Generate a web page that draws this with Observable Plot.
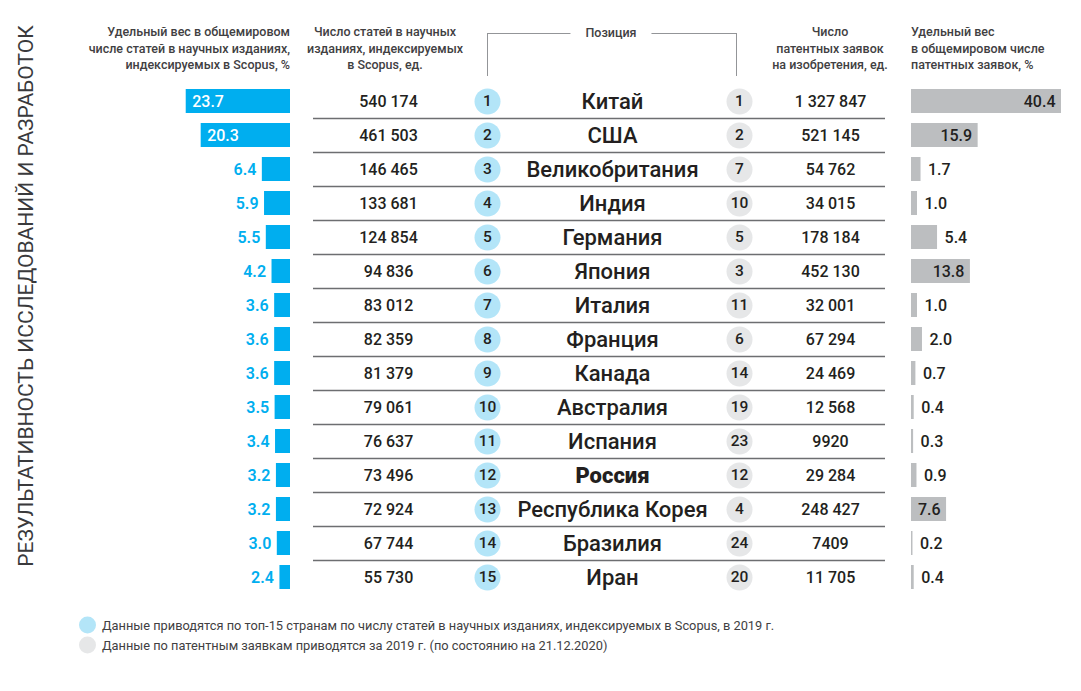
<!DOCTYPE html>
<html>
<head>
<meta charset="utf-8">
<script src="https://cdn.jsdelivr.net/npm/d3@7"></script>
<script src="https://cdn.jsdelivr.net/npm/@observablehq/plot@0.6"></script>
<style>
  body { margin: 0; background: #fff; }
  #chart { position: relative; width: 1081px; height: 691px; overflow: hidden; background: #fff;
           font-family: Roboto, "Noto Sans", sans-serif; color: #231f20; }
  #chart svg { position: absolute; left: 0; top: 0; background: transparent; overflow: visible; }
  .hdr { position: absolute; font-size: 12.5px; font-weight: 500; line-height: 16.5px; color: #414042; white-space: nowrap; }
  .bracket { position: absolute; left: 487px; top: 33px; width: 250px; height: 43px;
             border: 1.5px solid #939598; border-bottom: none; box-sizing: border-box; }
  .pos { position: absolute; left: 611px; top: 33px; transform: translate(-50%, -55%); background: #fff;
         padding: 0 15px; font-size: 12.5px; font-weight: 500; color: #414042; }
  .vtitle { position: absolute; left: 26px; top: 296px; transform: translate(-50%, -50%) rotate(-90deg);
            white-space: nowrap; font-size: 21px; font-weight: 400; color: #3a3a3c; letter-spacing: 0px; }
  .leg { position: absolute; left: 102px; font-size: 12.8px; color: #414042; white-space: nowrap; transform: translateY(-50%); }
  .legdot { position: absolute; left: 79px; width: 17px; height: 17px; border-radius: 50%; transform: translateY(-50%); }
</style>
</head>
<body>
<div id="chart">
  <div class="vtitle">РЕЗУЛЬТАТИВНОСТЬ ИССЛЕДОВАНИЙ И РАЗРАБОТОК</div>
  <div class="hdr" style="right:791px; top:24px; text-align:right;">Удельный вес в общемировом<br>числе статей в научных изданиях,<br>индексируемых в Scopus, %</div>
  <div class="hdr" style="left:285px; width:200px; top:24px; text-align:center;">Число статей в научных<br>изданиях, индексируемых<br>в Scopus, ед.</div>
  <div class="bracket"></div>
  <div class="pos">Позиция</div>
  <div class="hdr" style="left:730px; width:200px; top:24px; text-align:center;">Число<br>патентных заявок<br>на изобретения, ед.</div>
  <div class="hdr" style="left:911px; top:24px; text-align:left;">Удельный вес<br>в общемировом числе<br>патентных заявок, %</div>
  <div class="legdot" style="top:625px; background:#b3e5f8;"></div>
  <div class="leg" style="top:625px;">Данные приводятся по топ-15 странам по числу статей в научных изданиях, индексируемых в Scopus, в 2019 г.</div>
  <div class="legdot" style="top:645px; background:#e6e7e8;"></div>
  <div class="leg" style="top:645px;">Данные по патентным заявкам приводятся за 2019 г. (по состоянию на 21.12.2020)</div>
</div>
<script>
// ---- data ----
const countries = ["Китай","США","Великобритания","Индия","Германия","Япония","Италия","Франция","Канада","Австралия","Испания","Россия","Республика Корея","Бразилия","Иран"];
const articleShare = [23.7,20.3,6.4,5.9,5.5,4.2,3.6,3.6,3.6,3.5,3.4,3.2,3.2,3.0,2.4];
const articleCount = [540174,461503,146465,133681,124854,94836,83012,82359,81379,79061,76637,73496,72924,67744,55730];
const articleRank = [1,2,3,4,5,6,7,8,9,10,11,12,13,14,15];
const patentRank = [1,2,7,10,5,3,11,6,14,19,23,12,4,24,20];
const patentCount = [1327847,521145,54762,34015,178184,452130,32001,67294,24469,12568,9920,29284,248427,7409,11705];
const patentShare = [40.4,15.9,1.7,1.0,5.4,13.8,1.0,2.0,0.7,0.4,0.3,0.9,7.6,0.2,0.4];
const highlight = "Россия";

const rows = countries.map((c, i) => ({
  country: c, share: articleShare[i], articles: articleCount[i], rank: articleRank[i],
  prank: patentRank[i], patents: patentCount[i], pshare: patentShare[i]
}));

const fmtInt = n => n >= 10000 ? d3.format(",")(n).replace(/,/g, " ") : String(n);
const fmt1 = d3.format(".1f");

// ---- layout ----
const W = 1081, H = 691;
const rowTop = 84, rowBottom = 594;
const col = { articles: 388, rank: 487, country: 612, prank: 739, patents: 830, ruleStart: 313, ruleEnd: 885 };
const ink = "#231f20";
const blue = "#00aeef", lightBlue = "#b3e5f8", grey = "#bcbec0", lightGrey = "#e6e7e8";
const font = "Roboto, 'Noto Sans', sans-serif";

const chart = document.getElementById("chart");

// Table body: text columns, rank circles, separators
const yPoint = { type: "point", domain: countries, range: [rowTop + 17, rowBottom - 17], padding: 0, axis: null };
const table = Plot.plot({
  width: W, height: H, margin: 0,
  style: { background: "transparent", fontFamily: font },
  x: { type: "identity", axis: null },
  y: yPoint,
  marks: [
    Plot.ruleY(countries.slice(1), { y: d => d, dy: -17, x1: col.ruleStart, x2: col.ruleEnd, stroke: "#6d6e71", strokeWidth: 1.5 }),
    Plot.text(rows, { x: col.articles, y: "country", text: d => fmtInt(d.articles), fontSize: 16, fontWeight: 500, fill: ink }),
    Plot.dot(rows, { x: col.rank, y: "country", r: 13, fill: lightBlue, stroke: "none" }),
    Plot.text(rows, { x: col.rank, y: "country", text: d => String(d.rank), fontSize: 15.5, fontWeight: 500, fill: ink }),
    Plot.text(rows.filter(d => d.country !== highlight), { x: col.country, y: "country", text: "country", fontSize: 22, fontWeight: 500, fill: ink }),
    Plot.text(rows.filter(d => d.country === highlight), { x: col.country, y: "country", text: "country", fontSize: 22, fontWeight: 900, fill: ink }),
    Plot.dot(rows, { x: col.prank, y: "country", r: 13, fill: lightGrey, stroke: "none" }),
    Plot.text(rows, { x: col.prank, y: "country", text: d => String(d.prank), fontSize: 15.5, fontWeight: 500, fill: ink }),
    Plot.text(rows, { x: col.patents, y: "country", text: d => fmtInt(d.patents), fontSize: 16, fontWeight: 500, fill: ink })
  ]
});
chart.appendChild(table);

// Left: share of articles (bars grow leftwards)
const yBand = { domain: countries, range: [rowTop, rowBottom], padding: 0, axis: null };
const left = Plot.plot({
  width: W, height: H, margin: 0,
  style: { background: "transparent", fontFamily: font },
  x: { domain: [0, 25], range: [290, 180], axis: null },
  y: yBand,
  marks: [
    Plot.barX(rows, { x: "share", y: "country", fill: blue, insetTop: 5, insetBottom: 5 }),
    Plot.text(rows.filter(d => d.share >= 10), { x: "share", y: "country", text: d => fmt1(d.share), textAnchor: "start", dx: 6, fill: "white", fontSize: 16, fontWeight: 500 }),
    Plot.text(rows.filter(d => d.share < 10), { x: "share", y: "country", text: d => fmt1(d.share), textAnchor: "end", dx: -6, fill: blue, fontSize: 16, fontWeight: 600 })
  ]
});
chart.appendChild(left);

// Right: share of patent applications
const right = Plot.plot({
  width: W, height: H, margin: 0,
  style: { background: "transparent", fontFamily: font },
  x: { type: "pow", exponent: 0.87, domain: [0, 40.4], range: [911, 1061], axis: null },
  y: yBand,
  marks: [
    Plot.barX(rows, { x: "pshare", y: "country", fill: grey, insetTop: 5, insetBottom: 5 }),
    Plot.text(rows.filter(d => d.pshare >= 7), { x: "pshare", y: "country", text: d => fmt1(d.pshare), textAnchor: "end", dx: -6, fill: ink, fontSize: 16, fontWeight: 500 }),
    Plot.text(rows.filter(d => d.pshare < 7), { x: "pshare", y: "country", text: d => fmt1(d.pshare), textAnchor: "start", dx: 7, fill: ink, fontSize: 16, fontWeight: 500 })
  ]
});
chart.appendChild(right);
</script>
</body>
</html>
